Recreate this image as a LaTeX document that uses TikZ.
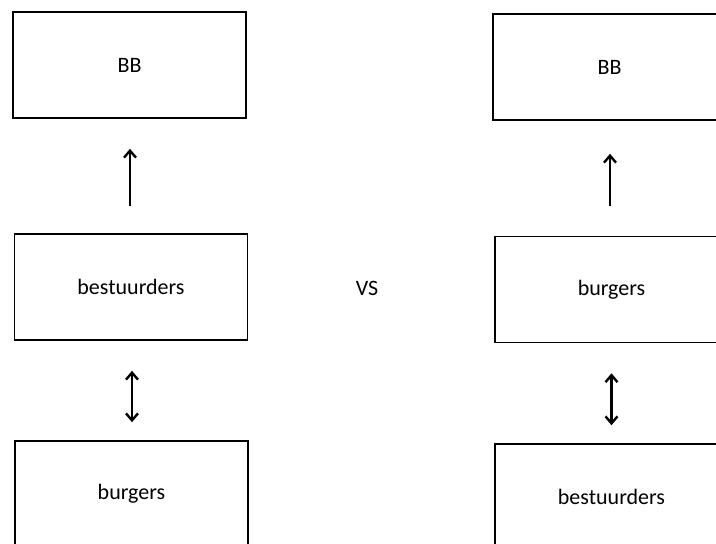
\documentclass[tikz,border=0pt]{standalone}
\usepackage{fontspec}
\setmainfont{Carlito}
\usetikzlibrary{arrows.meta}

\tikzset{
    blok/.style={draw, line width=1.6pt, minimum width=233pt, minimum height=106pt, inner sep=0pt, font=\fontsize{22}{26}\selectfont},
    pijl/.style={line width=2.4pt, -{Straight Barb[length=7pt,width=12pt,line width=2.4pt]}},
    dubbelpijl/.style={line width=2.4pt, {Straight Barb[length=7pt,width=12pt,line width=2.4pt]}-{Straight Barb[length=7pt,width=12pt,line width=2.4pt]}}
}

\begin{document}
\begin{tikzpicture}[x=1pt,y=1pt,yscale=-1,xscale=1]
    \useasboundingbox (0,0) rectangle (716,544);
    \clip (0,0) rectangle (716,544);

    %Shape: Rectangle [left column]
    \node (bbL) at (129.5,65) [blok] {BB};
    \node (bestL) at (131,287) [blok] {bestuurders};
    \node (burgL) at (131.5,494) [blok] {burgers};

    %Shape: Rectangle [right column]
    \node (bbR) at (609.5,67) [blok] {BB};
    \node (burgR) at (611.5,289.5) [blok] {burgers};
    \node (bestR) at (611.5,497) [blok] {bestuurders};

    %Straight Lines
    \draw [pijl, shorten <=27pt, shorten >=30pt] ([xshift=-1pt]bestL.north) -- ([xshift=-1pt]bestL.north |- bbL.south);
    \draw [dubbelpijl, shorten <=30pt, shorten >=18pt] ([xshift=1pt]bestL.south) -- ([xshift=1pt]bestL.south |- burgL.north);
    \draw [pijl, shorten <=30pt, shorten >=33pt] ([xshift=-1.5pt]burgR.north) -- ([xshift=-1.5pt]burgR.north |- bbR.south);
    \draw [dubbelpijl, shorten <=30pt, shorten >=18pt] (burgR.south) -- (burgR.south |- bestR.north);

    % Text Node
    \node (vs) at (367,288) [font=\fontsize{22}{26}\selectfont] {VS};

\end{tikzpicture}
\end{document}
